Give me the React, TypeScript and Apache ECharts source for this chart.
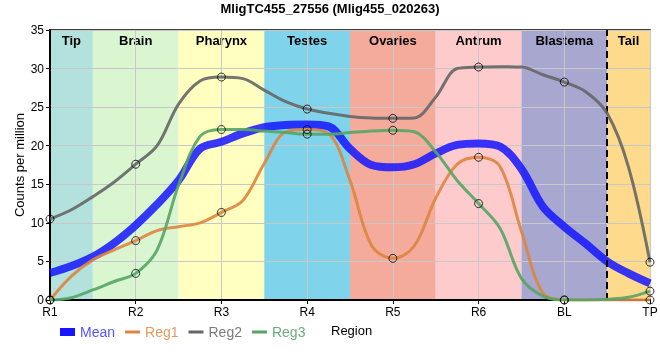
import React, { useEffect, useRef } from "react";
import * as echarts from "echarts";

const TITLE = "MligTC455_27556 (Mlig455_020263)";
const CATEGORIES = ["R1", "R2", "R3", "R4", "R5", "R6", "BL", "TP"];
const REGIONS = ["Tip", "Brain", "Pharynx", "Testes", "Ovaries", "Antrum", "Blastema", "Tail"];
const Y_TICKS = [0, 5, 10, 15, 20, 25, 30, 35];
// curves at quarter-category steps (R1 .. TP)
const STEPS_PER_CATEGORY = 4;
const MEAN = [3.5, 4.4, 5.6, 7.4, 9.7, 12.4, 15.5, 19.6, 20.5, 21.6, 22.4, 22.7, 22.75, 22.5, 19.6, 17.5, 17.2, 17.6, 19.0, 20.1, 20.3, 19.9, 17.0, 12.1, 9.5, 7.3, 5.0, 3.45, 2.15];
const REG1 = [0, 3.1, 5.2, 6.5, 7.7, 9.0, 9.5, 10.0, 11.35, 12.9, 17.7, 21.8, 22.1, 21.6, 15.5, 7.1, 5.4, 7.0, 13.2, 17.6, 18.5, 17.3, 8.9, 0.9, 0, 0, 0, 0, 0];
const REG2 = [10.5, 11.7, 13.4, 15.3, 17.6, 20.0, 25.4, 28.4, 28.9, 28.7, 27.2, 25.7, 24.75, 24.2, 23.8, 23.6, 23.55, 23.6, 26.3, 30.0, 30.2, 30.25, 30.2, 29.2, 28.25, 27.0, 24.2, 17.2, 4.9];
const REG3 = [0, 0.3, 1.3, 2.4, 3.45, 6.5, 14.9, 21.2, 22.1, 22.1, 21.9, 21.7, 21.5, 21.5, 21.7, 21.9, 22.0, 21.8, 19.2, 15.5, 12.5, 9.3, 2.8, 0.5, 0, 0, 0.1, 0.35, 1.15];
const SERIES_NAMES = ["Mean", "Reg1", "Reg2", "Reg3"];
const X_AXIS_TITLE = "Region";
const Y_AXIS_TITLE = "Counts per million";
const DASHED_AFTER = "BL";

const FONT = "Liberation Sans";
const REGION_COLORS = ["#b3e2de", "#d9f6d1", "#ffffbf", "#7fd4ec", "#f4ab9b", "#fdcbcb", "#a8a7cf", "#fdda8c"];
const SERIES_COLORS = ["#1515ff", "#dd8540", "#666666", "#55a565"];
const LEGEND_TEXT_COLORS = ["#5555ff", "#e8995c", "#7a7a7a", "#6aae78"];
const THIN_LINE_ICON = "path://M0,0H15V3H0Z";

export default function App() {
  const ref = useRef<HTMLDivElement>(null);
  useEffect(() => {
    if (!ref.current) return;
    const chart = echarts.init(ref.current, null, { renderer: "svg" });
    const toPts = (arr: number[]) => arr.map((v, i) => [i / STEPS_PER_CATEGORY, v]);
    const last = CATEGORIES.length - 1;
    const bands = REGIONS.map((name, i) => [
      {
        xAxis: Math.max(0, i - 0.5),
        name,
        itemStyle: { color: REGION_COLORS[i] },
      },
      { xAxis: Math.min(last, i + 0.5) },
    ]);
    const curves = [MEAN, REG1, REG2, REG3];
    const lineSeries = curves.map((arr, k) => ({
      name: SERIES_NAMES[k],
      type: "line",
      data: toPts(arr),
      smooth: 0.35,
      symbol: "none",
      z: k === 0 ? 4 : 5,
      lineStyle: { width: k === 0 ? 8 : 3, color: SERIES_COLORS[k], opacity: k === 0 ? 0.85 : 0.9 },
      itemStyle: { color: SERIES_COLORS[k] },
    }));
    const markerSeries = curves.slice(1).map((arr, k) => ({
      name: SERIES_NAMES[k + 1] + " points",
      type: "scatter",
      data: CATEGORIES.map((_, i) => [i, arr[i * STEPS_PER_CATEGORY]]),
      symbol: "circle",
      symbolSize: 8,
      z: 7,
      silent: true,
      itemStyle: { color: "rgba(0,0,0,0)", borderColor: "#000", borderWidth: 1 },
    }));
    const option = {
      animation: false,
      title: {
        text: TITLE,
        left: "center",
        top: 0,
        padding: [2, 5, 5, 5],
        textStyle: { fontFamily: FONT, fontSize: 13, fontWeight: "bold", color: "#000" },
      },
      grid: {
        left: 50,
        right: 10,
        top: 30,
        bottom: 60,
        outerBoundsMode: "none",
        show: true,
        borderColor: "#000",
        borderWidth: 1.5,
        backgroundColor: "transparent",
      },
      xAxis: {
        type: "value",
        min: 0,
        max: last,
        interval: 1,
        z: 3,
        axisLine: { onZero: false, lineStyle: { color: "#000", width: 2 } },
        axisTick: { show: true, length: 4, lineStyle: { color: "#000" } },
        axisLabel: {
          formatter: (v: number) => CATEGORIES[v] ?? "",
          color: "#000",
          fontSize: 12,
          fontFamily: FONT,
          margin: 6,
        },
        splitLine: { show: true, lineStyle: { color: "#c8c8c8", width: 1 } },
      },
      yAxis: {
        type: "value",
        min: Y_TICKS[0],
        max: Y_TICKS[Y_TICKS.length - 1],
        interval: Y_TICKS[1] - Y_TICKS[0],
        z: 3,
        name: Y_AXIS_TITLE,
        nameLocation: "middle",
        nameGap: 24,
        nameMoveOverlap: false,
        nameTextStyle: { fontFamily: FONT, fontSize: 13, color: "#000" },
        axisLine: { show: true, lineStyle: { color: "#000", width: 2 } },
        axisTick: { show: true, length: 4, lineStyle: { color: "#000" } },
        axisLabel: { color: "#000", fontSize: 12, fontFamily: FONT, margin: 6 },
        splitLine: { show: true, lineStyle: { color: "#c8c8c8", width: 1 } },
      },
      legend: {
        left: 55,
        top: 320,
        itemWidth: 15,
        itemHeight: 8,
        itemGap: 10,
        symbolKeepAspect: true,
        textStyle: { fontFamily: FONT, fontSize: 14 },
        data: SERIES_NAMES.map((name, k) => ({
          name,
          icon: k === 0 ? "rect" : THIN_LINE_ICON,
          textStyle: { color: LEGEND_TEXT_COLORS[k] },
        })),
      },
      graphic: [
        {
          type: "text",
          left: 331,
          top: 324,
          style: { text: X_AXIS_TITLE, fontFamily: FONT, fontSize: 13, fill: "#000" },
        },
      ],
      series: [
        {
          name: "bands",
          type: "line",
          data: [],
          z: 1,
          silent: true,
          markArea: {
            silent: true,
            label: {
              show: true,
              position: "insideTop",
              distance: 4,
              fontFamily: FONT,
              fontSize: 13,
              fontWeight: "bold",
              color: "#000",
            },
            data: bands,
          },
        },
        {
          name: "divider",
          type: "line",
          data: [],
          z: 6,
          silent: true,
          markLine: {
            silent: true,
            symbol: "none",
            label: { show: false },
            lineStyle: { color: "#000", width: 2, type: [7, 4] },
            data: [{ xAxis: CATEGORIES.indexOf(DASHED_AFTER) + 0.5 }],
          },
        },
        ...lineSeries,
        ...markerSeries,
      ],
    };
    chart.setOption(option as any);
    return () => chart.dispose();
  }, []);
  return <div ref={ref} style={{ position: "fixed", left: 0, top: 0, width: 660, height: 360 }} />;
}
